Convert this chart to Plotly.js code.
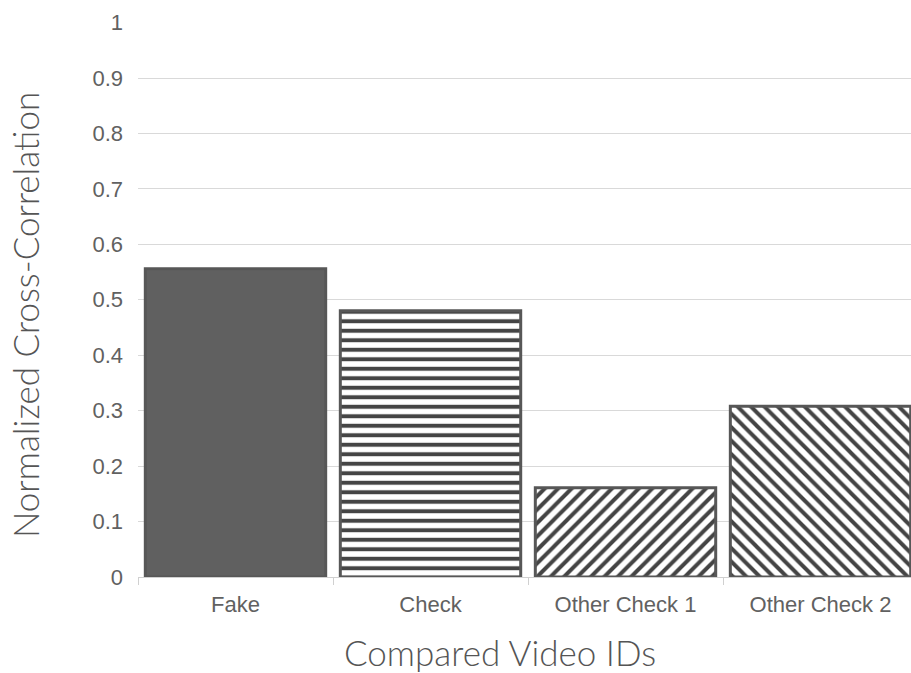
<!DOCTYPE html>
<html>
<head>
<meta charset="utf-8">
<script src="https://cdn.plot.ly/plotly-3.0.1.min.js"></script>
<style>html,body{margin:0;padding:0;background:#fff;}#chart{width:911px;height:673px;}</style>
</head>
<body>
<div id="chart"></div>
<script>
const categories = ["Fake", "Check", "Other Check 1", "Other Check 2"];
const values = [0.556, 0.480, 0.161, 0.308];
const patternShapes = ["", "-", "/", "\\"];
const yTicks = [0, 0.1, 0.2, 0.3, 0.4, 0.5, 0.6, 0.7, 0.8, 0.9, 1];
const yTickLabels = ["0", "0.1", "0.2", "0.3", "0.4", "0.5", "0.6", "0.7", "0.8", "0.9", "1"];
const xTitle = "Compared Video IDs";
const yTitle = "Normalized Cross-Correlation";

const trace = {
  type: "bar",
  x: categories,
  y: values,
  marker: {
    color: ["#606060", "#ffffff", "#ffffff", "#ffffff"],
    line: {color: "#575757", width: 3},
    pattern: {
      shape: patternShapes,
      fgcolor: "#4a4a4a",
      fgopacity: 1,
      bgcolor: "#ffffff",
      size: 9.5,
      solidity: 0.42,
      fillmode: "overlay"
    }
  },
  hoverinfo: "none"
};

const titleFont = {size: 35, family: "Lato, Open Sans, sans-serif", color: "#555555", weight: 300};

const layout = {
  width: 911,
  height: 673,
  margin: {l: 138, r: 0, t: 22, b: 96},
  paper_bgcolor: "#fff",
  plot_bgcolor: "#fff",
  showlegend: false,
  bargap: 0.075,
  font: {family: "Liberation Sans, Arial, sans-serif", color: "#595959"},
  xaxis: {
    type: "category",
    range: [-0.5, 3.464],
    showgrid: false,
    showline: true,
    linecolor: "#d0d0d0",
    linewidth: 1,
    ticks: "outside",
    tickson: "boundaries",
    ticklen: 7,
    tickcolor: "#d0d0d0",
    ticklabelstandoff: 8,
    tickfont: {size: 22, color: "#616161", family: "Liberation Sans, Arial, sans-serif"},
    fixedrange: true
  },
  yaxis: {
    range: [0, 1.001],
    tickvals: yTicks,
    ticktext: yTickLabels,
    showgrid: true,
    gridcolor: "#d9d9d9",
    gridwidth: 1,
    zeroline: false,
    showline: false,
    ticks: "",
    ticklabelstandoff: 14,
    tickfont: {size: 22, color: "#616161", family: "Liberation Sans, Arial, sans-serif"},
    fixedrange: true
  },
  annotations: [
    {text: xTitle, xref: "paper", yref: "paper", x: 0.4683, y: -0.136, xanchor: "center", yanchor: "middle", showarrow: false, font: titleFont, borderpad: 0},
    {text: yTitle, xref: "paper", yref: "paper", x: -0.1462, y: 0.472, xanchor: "center", yanchor: "middle", textangle: -90, showarrow: false, font: titleFont, borderpad: 0}
  ]
};

Plotly.newPlot("chart", [trace], layout, {displayModeBar: false, staticPlot: true});
</script>
</body>
</html>
